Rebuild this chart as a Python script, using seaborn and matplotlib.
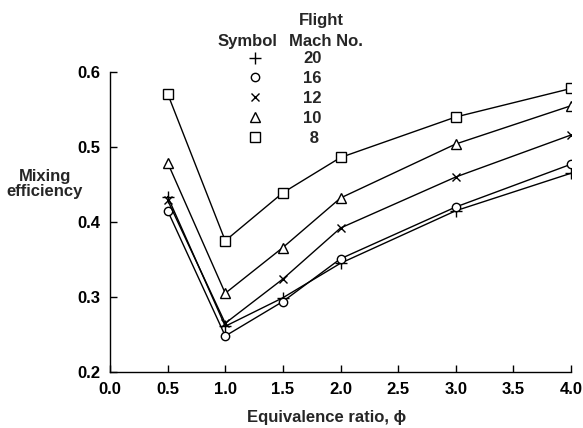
import matplotlib
matplotlib.use("Agg")
import matplotlib.pyplot as plt
from matplotlib.lines import Line2D
from matplotlib.ticker import FormatStrFormatter
import seaborn as sns

# equivalence ratio and mixing efficiency per flight Mach number
phi = [0.5, 1.0, 1.5, 2.0, 3.0, 4.0]
mach = ["20", "16", "12", "10", "\u2009\u20098"]
eff_m20 = [0.434, 0.261, 0.299, 0.345, 0.415, 0.465]
eff_m16 = [0.415, 0.248, 0.294, 0.351, 0.420, 0.477]
eff_m12 = [0.429, 0.265, 0.324, 0.392, 0.460, 0.516]
eff_m10 = [0.479, 0.305, 0.366, 0.432, 0.504, 0.555]
eff_m8 = [0.571, 0.375, 0.439, 0.486, 0.540, 0.578]

series = [eff_m20, eff_m16, eff_m12, eff_m10, eff_m8]
markers = ["+", "o", "x", "^", "s"]
msizes = [8, 6, 6, 7, 6.5]

sns.set_style("ticks")
plt.rcParams["font.family"] = ["Liberation Sans", "DejaVu Sans"]
plt.rcParams["font.weight"] = "bold"
FS = 12

fig = plt.figure(figsize=(5.83, 4.28), dpi=100)
ax = fig.add_axes([0.1887, 0.1308, 0.7907, 0.701])

for vals, mk, ms in zip(series, markers, msizes):
    sns.lineplot(x=phi, y=vals, ax=ax, color="black", linewidth=1.0,
                 marker=mk, markersize=ms, markerfacecolor="white",
                 markeredgecolor="black", markeredgewidth=1.0)

ax.set_xlim(0, 4.0)
ax.set_ylim(0.2, 0.6)
ax.set_xticks([0.0, 0.5, 1.0, 1.5, 2.0, 2.5, 3.0, 3.5, 4.0])
ax.set_yticks([0.2, 0.3, 0.4, 0.5, 0.6])
ax.xaxis.set_major_formatter(FormatStrFormatter("%.1f"))
ax.yaxis.set_major_formatter(FormatStrFormatter("%.1f"))
ax.tick_params(direction="in", length=5, width=1, labelsize=FS, colors="black", pad=7)
sns.despine(ax=ax)
for sp in ["left", "bottom"]:
    ax.spines[sp].set_linewidth(1.0)
    ax.spines[sp].set_color("black")

ax.set_xlabel("Equivalence ratio, ϕ", fontsize=FS, fontweight="bold")
ax.xaxis.set_label_coords(0.469, -0.15)
ax.xaxis.label.set_va("center")
fig.text(0.077, 0.57, "Mixing\nefficiency", fontsize=FS, fontweight="bold",
         ha="center", va="center", linespacing=1.05, multialignment="center")

# legend table
fig.text(0.552, 0.953, "Flight", fontsize=FS, fontweight="bold", ha="center", va="center")
fig.text(0.424, 0.904, "Symbol", fontsize=FS, fontweight="bold", ha="center", va="center")
fig.text(0.559, 0.904, "Mach No.", fontsize=FS, fontweight="bold", ha="center", va="center")
handles = [Line2D([], [], linestyle="none", marker=mk, markersize=ms,
                  markerfacecolor="white", markeredgecolor="black",
                  markeredgewidth=1.0) for mk, ms in zip(markers, msizes)]
leg = fig.legend(handles, mach, loc="upper left", bbox_to_anchor=(0.423, 0.880),
                 frameon=False, handlelength=1.0, handletextpad=2.38,
                 labelspacing=0.29, fontsize=FS, borderpad=0, borderaxespad=0)

fig.savefig("out.png", dpi=100)
